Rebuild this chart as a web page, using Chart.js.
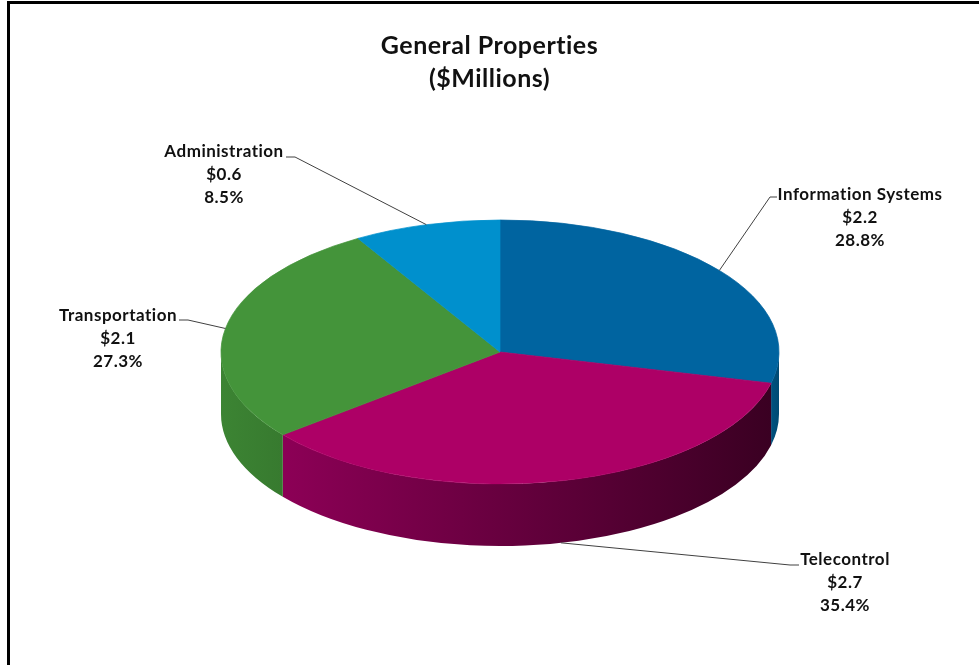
<!DOCTYPE html>
<html lang="en">
<head>
    <meta charset="UTF-8">
    <title>General Properties</title>
    <script src="https://cdn.jsdelivr.net/npm/chart.js@4"></script>
    <style>
        html, body { margin: 0; padding: 0; background: #fff; }
        #wrap { position: relative; width: 979px; height: 665px; overflow: hidden; }
        #frame { position: absolute; left: 7px; top: 1px; width: 1200px; height: 1200px;
                 border-left: 3px solid #000; border-top: 3px solid #000; }
        #pieChart { position: absolute; left: 0; top: 0; }
    </style>
</head>
<body>
    <div id="wrap">
        <div id="frame"></div>
        <canvas id="pieChart" width="979" height="665"></canvas>
    </div>

    <script>
        // Data
        const categories = ['Information Systems', 'Telecontrol', 'Transportation', 'Administration'];
        const millions = [2.2, 2.7, 2.1, 0.6];
        const shares = [28.8, 35.4, 27.3, 8.5];

        const topColors = ['#0064A0', '#AD0066', '#44943A', '#0090CD'];
        const wallColors = [
            ['#00527F', '#004A73'],
            ['#8C0056', '#3A0022'],
            ['#3C8433', '#377A2F'],
            ['#0077AA', '#006E9E']
        ];

        // ellipse the flat pie gets squashed into, plus the wall depth
        const tilt = { cx: 500, cy: 352, rx: 279, ry: 132, depth: 62 };

        // label blocks: text centre, first line y, leader knee and end
        const labelSpots = [
            { x: 860, y: 195, knee: [770, 197], end: [777, 197] },
            { x: 845, y: 560, knee: [790, 565], end: [799, 565] },
            { x: 118, y: 316, knee: [188, 320], end: [179, 320] },
            { x: 224, y: 152, knee: [295, 157], end: [286, 157] }
        ];

        const labelFont = 'bold 17px Lato';

        const pie3d = {
            id: 'pie3d',
            beforeDraw(chart) {
                // a little tracking keeps Lato from joining "ti" into a ligature
                chart.ctx.letterSpacing = '0.5px';
            },
            beforeDatasetsDraw(chart) {
                const ctx = chart.ctx;
                const arcs = chart.getDatasetMeta(0).data;
                const { cx, cy, rx, ry, depth } = tilt;

                // outer walls, only the front half faces us (0..PI)
                arcs.forEach((arc, i) => {
                    const a = Math.max(arc.startAngle, 0);
                    const b = Math.min(arc.endAngle, Math.PI);
                    if (b <= a) return;
                    const xs = [cx + rx * Math.cos(a), cx + rx * Math.cos(b)];
                    if (a <= 0) xs.push(cx + rx);
                    const g = ctx.createLinearGradient(Math.min(...xs), 0, Math.max(...xs), 0);
                    g.addColorStop(0, wallColors[i][0]);
                    g.addColorStop(1, wallColors[i][1]);
                    ctx.beginPath();
                    ctx.ellipse(cx, cy, rx, ry, 0, a, b);
                    ctx.ellipse(cx, cy + depth, rx, ry, 0, b, a, true);
                    ctx.closePath();
                    ctx.fillStyle = g;
                    ctx.fill();
                });

                // squash the round pie onto the top face
                const R = arcs[0].outerRadius;
                ctx.save();
                ctx.translate(cx, cy);
                ctx.scale(rx / R, ry / R);
                ctx.translate(-arcs[0].x, -arcs[0].y);
            },
            afterDatasetsDraw(chart) {
                chart.ctx.restore();
            },
            afterDraw(chart) {
                const ctx = chart.ctx;
                const arcs = chart.getDatasetMeta(0).data;
                const { cx, cy, rx, ry, depth } = tilt;
                ctx.save();
                arcs.forEach((arc, i) => {
                    const m = (arc.startAngle + arc.endAngle) / 2;
                    let sx = cx + rx * Math.cos(m);
                    let sy = cy + ry * Math.sin(m);
                    if (Math.sin(m) > 0.5) sy += depth;
                    const spot = labelSpots[i];

                    ctx.strokeStyle = '#404040';
                    ctx.lineWidth = 1;
                    ctx.beginPath();
                    ctx.moveTo(sx, sy);
                    ctx.lineTo(spot.knee[0], spot.knee[1]);
                    ctx.lineTo(spot.end[0], spot.end[1]);
                    ctx.stroke();

                    ctx.fillStyle = '#111';
                    ctx.font = labelFont;
                    ctx.textAlign = 'center';
                    ctx.textBaseline = 'middle';
                    const lines = [categories[i], '$' + millions[i].toFixed(1), shares[i].toFixed(1) + '%'];
                    lines.forEach((t, k) => ctx.fillText(t, spot.x, spot.y + k * 23));
                });
                ctx.restore();
            }
        };

        const ctx = document.getElementById('pieChart').getContext('2d');
        new Chart(ctx, {
            type: 'pie',
            data: {
                labels: categories,
                datasets: [{
                    data: shares,
                    backgroundColor: topColors,
                    borderColor: topColors,
                    borderWidth: 1
                }]
            },
            options: {
                responsive: false,
                animation: false,
                events: [],
                plugins: {
                    legend: { display: false },
                    tooltip: { enabled: false },
                    title: {
                        display: true,
                        text: ['General Properties', '($Millions)'],
                        color: '#111',
                        font: { family: 'Lato', size: 25, weight: 'bold', lineHeight: 1.32 },
                        padding: { top: 29, bottom: 10 }
                    }
                }
            },
            plugins: [pie3d]
        });
    </script>
</body>
</html>
